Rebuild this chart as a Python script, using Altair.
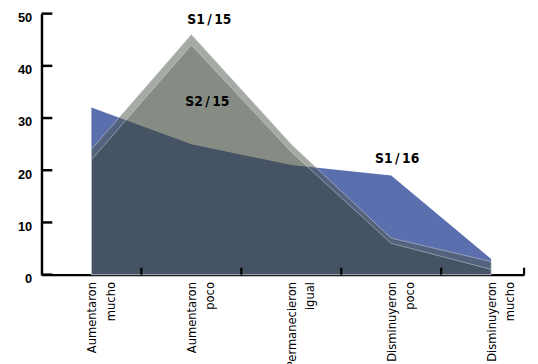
import json
import altair as alt
import pandas as pd

# ---- data ----
categories = ["Aumentaron mucho", "Aumentaron poco", "Permanecieron igual",
              "Disminuyeron poco", "Disminuyeron mucho"]
label_lines = [["Aumentaron", "mucho"], ["Aumentaron", "poco"], ["Permanecieron", "igual"],
               ["Disminuyeron", "poco"], ["Disminuyeron", "mucho"]]
s1_16 = [32, 25, 21, 19, 3]
s1_15 = [24, 46, 25, 7, 2.5]
s2_15 = [22, 44, 23.5, 6, 1]
y_tick_values = [0, 10, 20, 30, 40, 50]
x_tick_values = [0.5, 1.5, 2.5, 3.5, 4.33]
ann_text = ["S1\u2009/\u200915", "S2\u2009/\u200915", "S1\u2009/\u200916"]
ann_x = [1.18, 1.16, 3.06]
ann_y = [48.8, 33.1, 22.2]

W, H = 490, 265
COND = "DejaVu Sans Condensed, Liberation Sans, sans-serif"

df = pd.DataFrame({
    "i": list(range(len(categories))),
    "cat": categories,
    "s1_16": s1_16,
    "s1_15": s1_15,
    "s2_15": s2_15,
})
ann = pd.DataFrame({"t": ann_text, "x": ann_x, "y": ann_y})
yt = pd.DataFrame({"v": y_tick_values})
xt = pd.DataFrame({"v": x_tick_values})

xs = alt.Scale(domain=[-0.5, 4.33], nice=False, zero=False)
ys = alt.Scale(domain=[0, 50], nice=False)

label_expr = json.dumps(label_lines) + "[round(datum.value)]"

x_axis = alt.Axis(
    values=[0, 1, 2, 3, 4], ticks=False, grid=False, title=None,
    domainColor="black", domainWidth=2.5,
    labelExpr=label_expr, labelAngle=270, labelAlign="right", labelBaseline="middle",
    labelFont=COND, labelFontSize=13, labelLineHeight=19, labelPadding=7,
    labelColor="black", labelLimit=0, labelOverlap=False,
)
y_axis = alt.Axis(
    values=y_tick_values, ticks=False, grid=False, title=None,
    domainColor="black", domainWidth=2.5,
    labelFont="Liberation Sans", labelFontWeight="bold", labelFontSize=13,
    labelPadding=10, labelOffset=4, labelColor="black",
)

base = alt.Chart(df)

blue = base.mark_area(color="#5b6fae").encode(
    x=alt.X("i:Q", scale=xs, axis=x_axis),
    y=alt.Y("s1_16:Q", scale=ys, axis=y_axis),
)
gray1 = base.mark_area(color="#4b554b", fillOpacity=0.5, stroke="#d8dce2",
                       strokeWidth=0.7, strokeOpacity=0.7).encode(
    x=alt.X("i:Q", scale=xs), y=alt.Y("s1_15:Q", scale=ys))
gray2 = base.mark_area(color="#151a0b", fillOpacity=0.21, stroke="#d8dce2",
                       strokeWidth=0.7, strokeOpacity=0.7).encode(
    x=alt.X("i:Q", scale=xs), y=alt.Y("s2_15:Q", scale=ys))

yticks = alt.Chart(yt).mark_rule(color="black", strokeWidth=2.5).encode(
    y=alt.Y("v:Q", scale=ys), x=alt.value(0), x2=alt.value(11))
xticks = alt.Chart(xt).mark_rule(color="black", strokeWidth=2.2).encode(
    x=alt.X("v:Q", scale=xs), y=alt.value(H - 7), y2=alt.value(H))

labels = alt.Chart(ann).mark_text(font=COND, fontWeight="bold", fontSize=14,
                                  color="black").encode(
    x=alt.X("x:Q", scale=xs), y=alt.Y("y:Q", scale=ys), text="t:N")

chart = alt.layer(blue, gray1, gray2, yticks, xticks, labels).properties(
    width=W, height=H,
    autosize=alt.AutoSizeParams(type="none"),
    padding={"left": 34, "top": 3, "right": 6, "bottom": 88},
).configure_view(stroke=None)

chart.save("out.html", embed_options={"renderer": "svg", "actions": False})
